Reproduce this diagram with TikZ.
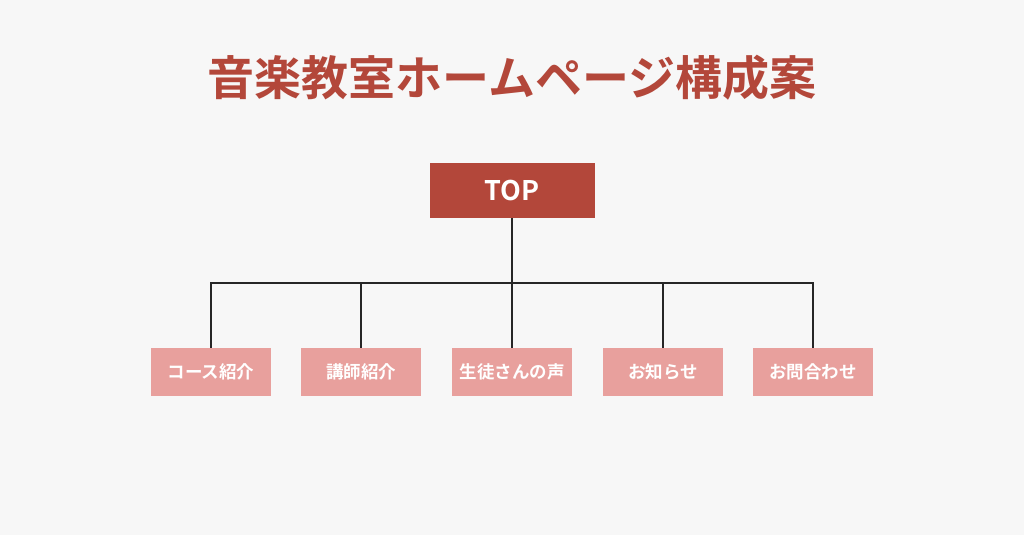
\documentclass[tikz,border=0pt]{standalone}
\usepackage{fontspec}
\newfontfamily\jpfont{Noto Sans CJK JP}
\newfontfamily\jpbold{Noto Sans CJK JP Bold}
\usetikzlibrary{positioning}
\definecolor{brick}{HTML}{B3473A}
\definecolor{rose}{HTML}{E8A09D}
\definecolor{paper}{HTML}{F7F7F7}
\begin{document}
\begin{tikzpicture}[
    x=1pt, y=-1pt,
    topbox/.style={fill=brick, minimum width=165pt, minimum height=55pt, text=white, font=\jpbold\fontsize{27}{30}\selectfont},
    page/.style={fill=rose, minimum width=120pt, minimum height=48pt, text=white, font=\jpbold\fontsize{17.5}{20}\selectfont},
    link/.style={draw=black!85, line width=1.3pt}
]
    \fill[paper] (0,0) rectangle (1024,535);
    \node[text=brick, font=\jpbold\fontsize{47}{52}\selectfont] (title) at (512,78) {音楽教室ホームページ構成案};
    \node[topbox] (top) at (512,190.5) {TOP};
    \coordinate (bus) at (512,283);

    \node[page] (course) at (211,372) {コース紹介};
    \node[page] (teacher) at (361,372) {講師紹介};
    \node[page] (voice) at (512,372) {生徒さんの声};
    \node[page] (news) at (663,372) {お知らせ};
    \node[page] (contact) at (813,372) {お問合わせ};

    \draw[link] (top.south) -- (bus);
    \foreach \p in {course, teacher, voice, news, contact}
        \draw[link] (bus) -| (\p.north);
\end{tikzpicture}
\end{document}
